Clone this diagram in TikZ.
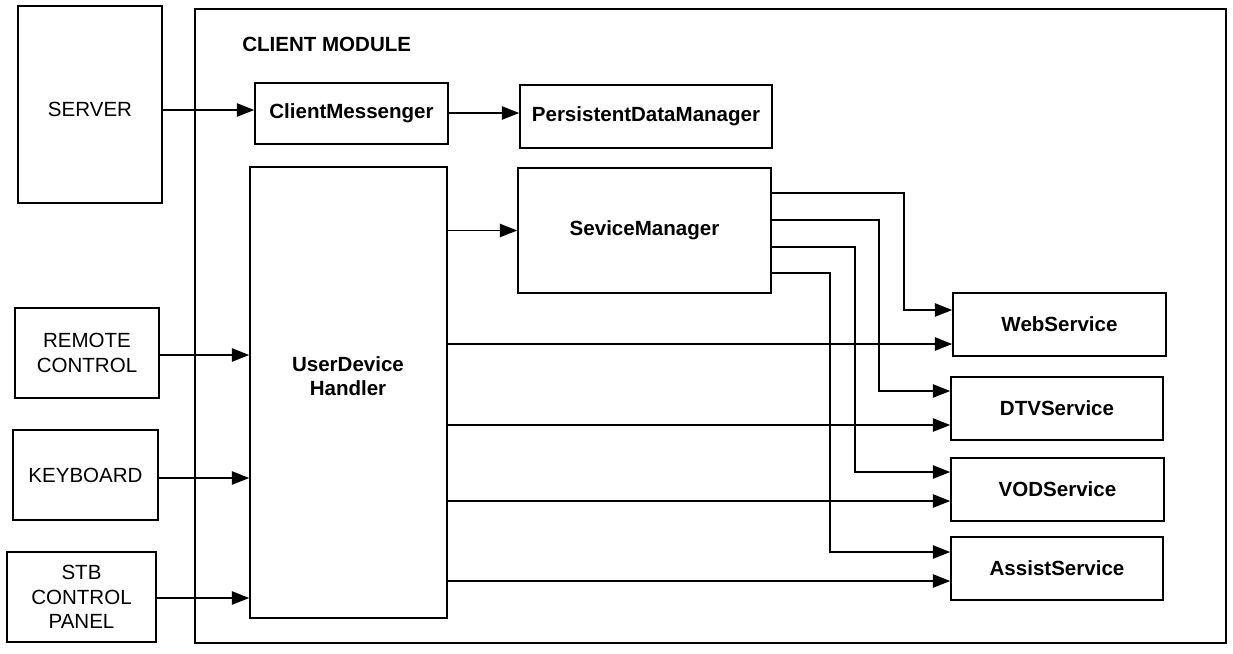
\documentclass[tikz,border=0pt]{standalone}
\usepackage{fontspec}
\setmainfont{Liberation Sans}
\usetikzlibrary{fit,arrows.meta}
\begin{document}
\begin{tikzpicture}[x=0.75pt,y=-0.75pt,
 extfont/.style={inner sep=0pt, align=center, font=\fontsize{15.4}{18.5}\selectfont},
 innfont/.style={inner sep=0pt, align=center, font=\fontsize{15.4}{18.5}\selectfont\bfseries},
 ext/.style={draw, line width=1.9pt, inner sep=0pt},
 inn/.style={draw, line width=1.2pt, inner sep=0pt},
 arr/.style={line width=1.15pt, -{Triangle[length=13pt,width=10pt]}},
]
\useasboundingbox[fill=white] (0,0) rectangle (1233,654);
% outer module
\node[draw, line width=2.2pt, inner sep=0pt, fit={(195,9) (1226,643)}] (client) {};
\node[innfont, anchor=west] (title) at (242,44) {CLIENT MODULE};
% external boxes
\node[ext, fit={(18,6) (162,203)}, label={[extfont, yshift=-4pt]center:SERVER}] (server) {};
\node[ext, fit={(15,308) (159,398)}, label={[extfont]center:{REMOTE\\CONTROL}}] (rc) {};
\node[ext, fit={(13,430) (158,520)}, label={[extfont]center:KEYBOARD}] (kb) {};
\node[ext, fit={(7,552) (156,642)}, label={[extfont]center:{STB\\CONTROL\\PANEL}}] (stb) {};
% internal boxes
\node[inn, fit={(255,83) (448,144)}, label={[innfont]center:ClientMessenger}] (cm) {};
\node[inn, fit={(520,85) (772,148)}, label={[innfont]center:PersistentDataManager}] (pdm) {};
\node[inn, fit={(518,168) (771,293)}, label={[innfont]center:SeviceManager}] (sm) {};
\node[inn, fit={(250,167) (447,618)}] (udh) {};
\node[innfont] (udhtext) at (348,376) {UserDevice\\Handler};
\node[inn, fit={(953,293) (1166,356)}, label={[innfont]center:WebService}] (web) {};
\node[inn, fit={(951,377) (1163,440)}, label={[innfont]center:DTVService}] (dtv) {};
\node[inn, fit={(951,458) (1164,521)}, label={[innfont]center:VODService}] (vod) {};
\node[inn, fit={(951,537) (1163,600)}, label={[innfont]center:AssistService}] (asst) {};
% connectors
\draw[arr] (server.east |- 0,110) -- (cm.west |- 0,110);
\draw[arr] (cm.east |- 0,113) -- (pdm.west |- 0,113);
\draw[arr] (udh.east |- sm.west) -- (sm.west);
\draw[arr] (rc.east |- 0,355) -- (udh.west |- 0,355);
\draw[arr] (kb.east |- 0,478) -- (udh.west |- 0,478);
\draw[arr] (stb.east |- 0,598) -- (udh.west |- 0,598);
% service manager fan-out
\draw[arr] (sm.east |- 0,193) -| (904,310) -- (web.west |- 0,310);
\draw[arr] (sm.east |- 0,220) -| (879,391) -- (dtv.west |- 0,391);
\draw[arr] (sm.east |- 0,247) -| (855,472) -- (vod.west |- 0,472);
\draw[arr] (sm.east |- 0,273) -| (830,552) -- (asst.west |- 0,552);
% user device handler fan-out
\draw[arr] (udh.east |- 0,344) -- (web.west |- 0,344);
\draw[arr] (udh.east |- 0,425) -- (dtv.west |- 0,425);
\draw[arr] (udh.east |- 0,501) -- (vod.west |- 0,501);
\draw[arr] (udh.east |- 0,581) -- (asst.west |- 0,581);
\end{tikzpicture}
\end{document}
